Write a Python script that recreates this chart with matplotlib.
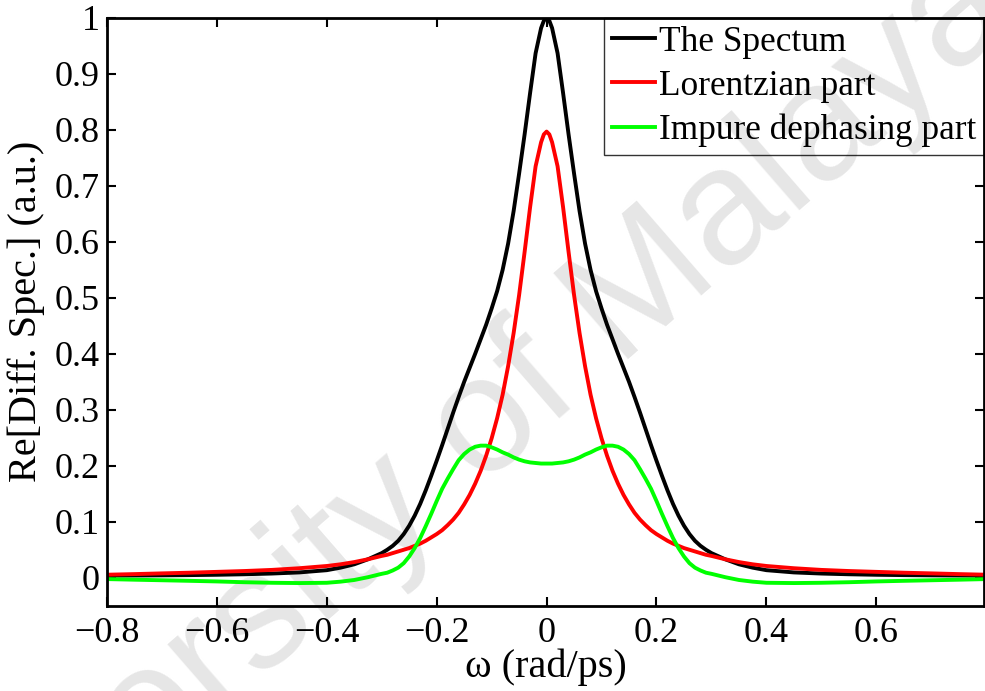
import matplotlib
matplotlib.use('Agg')
import matplotlib.pyplot as plt

plt.rcParams['font.family'] = 'Liberation Serif'

# values (curves are symmetric about 0)
omega = [-0.8, -0.75, -0.7, -0.65, -0.6, -0.55, -0.5, -0.45, -0.4, -0.375, -0.35, -0.325,
         -0.3, -0.29, -0.28, -0.27, -0.26, -0.25, -0.24, -0.23, -0.22, -0.21,
         -0.2, -0.19, -0.18, -0.17, -0.16, -0.15, -0.14, -0.13, -0.12, -0.11,
         -0.1, -0.09, -0.08, -0.07, -0.06, -0.05, -0.04, -0.03, -0.02, -0.01, -0.005,
         0.0,
         0.005, 0.01, 0.02, 0.03, 0.04, 0.05, 0.06, 0.07, 0.08, 0.09, 0.1,
         0.11, 0.12, 0.13, 0.14, 0.15, 0.16, 0.17, 0.18, 0.19, 0.2,
         0.21, 0.22, 0.23, 0.24, 0.25, 0.26, 0.27, 0.28, 0.29, 0.3,
         0.325, 0.35, 0.375, 0.4, 0.45, 0.5, 0.55, 0.6, 0.65, 0.7, 0.75, 0.8]

spectrum = [0.0036, 0.004, 0.0043, 0.0047, 0.0053, 0.0062, 0.0075, 0.0095, 0.0135, 0.018, 0.024, 0.033,
            0.044, 0.050, 0.057, 0.066, 0.078, 0.093, 0.111, 0.132, 0.156, 0.182,
            0.209, 0.237, 0.266, 0.295, 0.323, 0.350, 0.375, 0.400, 0.426, 0.452,
            0.481, 0.512, 0.550, 0.597, 0.655, 0.722, 0.792, 0.866, 0.937, 0.982, 0.995,
            1.000,
            0.995, 0.982, 0.937, 0.866, 0.792, 0.722, 0.655, 0.597, 0.550, 0.512, 0.481,
            0.452, 0.426, 0.400, 0.375, 0.350, 0.323, 0.295, 0.266, 0.237, 0.209,
            0.182, 0.156, 0.132, 0.111, 0.093, 0.078, 0.066, 0.057, 0.050, 0.044,
            0.033, 0.024, 0.018, 0.0135, 0.0095, 0.0075, 0.0062, 0.0053, 0.0047, 0.0043, 0.004, 0.0036]

lorentzian = [0.0054, 0.0065, 0.0078, 0.009, 0.0105, 0.012, 0.014, 0.017, 0.021, 0.024, 0.028, 0.033,
              0.039, 0.041, 0.044, 0.047, 0.050, 0.053, 0.057, 0.061, 0.066, 0.072,
              0.078, 0.085, 0.094, 0.104, 0.116, 0.131, 0.148, 0.168, 0.191, 0.218,
              0.249, 0.285, 0.327, 0.378, 0.437, 0.505, 0.582, 0.662, 0.735, 0.778, 0.792,
              0.797,
              0.792, 0.778, 0.735, 0.662, 0.582, 0.505, 0.437, 0.378, 0.327, 0.285, 0.249,
              0.218, 0.191, 0.168, 0.148, 0.131, 0.116, 0.104, 0.094, 0.085, 0.078,
              0.072, 0.066, 0.061, 0.057, 0.053, 0.050, 0.047, 0.044, 0.041, 0.039,
              0.033, 0.028, 0.024, 0.021, 0.017, 0.014, 0.012, 0.0105, 0.009, 0.0078, 0.0065, 0.0054]

impure = [-0.0024, -0.0035, -0.0045, -0.0055, -0.0066, -0.008, -0.009, -0.0095, -0.009, -0.007, -0.004, 0.001,
          0.007, 0.009, 0.013, 0.018, 0.026, 0.038, 0.053, 0.071, 0.092, 0.114,
          0.137, 0.159, 0.177, 0.194, 0.210, 0.221, 0.229, 0.234, 0.236, 0.236,
          0.233, 0.229, 0.224, 0.220, 0.215, 0.211, 0.208, 0.206, 0.205, 0.204, 0.204,
          0.204,
          0.204, 0.204, 0.205, 0.206, 0.208, 0.211, 0.215, 0.220, 0.224, 0.229, 0.233,
          0.236, 0.236, 0.234, 0.229, 0.221, 0.210, 0.194, 0.177, 0.159, 0.137,
          0.114, 0.092, 0.071, 0.053, 0.038, 0.026, 0.018, 0.013, 0.009, 0.007,
          0.001, -0.004, -0.007, -0.009, -0.0095, -0.009, -0.008, -0.0066, -0.0055, -0.0045, -0.0035, -0.0024]

xticks = [-0.8, -0.6, -0.4, -0.2, 0, 0.2, 0.4, 0.6]
xticklabels = ['\u22120.8', '\u22120.6', '\u22120.4', '\u22120.2', '0', '0.2', '0.4', '0.6']
yticks = [0, 0.1, 0.2, 0.3, 0.4, 0.5, 0.6, 0.7, 0.8, 0.9, 1]
yticklabels = ['0', '0.1', '0.2', '0.3', '0.4', '0.5', '0.6', '0.7', '0.8', '0.9', '1']

fig = plt.figure(figsize=(9.85, 6.91), dpi=100)
ax = fig.add_axes([0.1086, 0.1234, 0.8904, 0.8506])
ax.set_facecolor('none')

# thesis watermark behind everything
fig.text(0.4376, 0.314, 'University of Malaya', rotation=41, color='#e6e6e6',
         fontsize=119, family='Liberation Sans', ha='center', va='center',
         rotation_mode='anchor', zorder=-1)

ax.plot(omega, spectrum, color='k', lw=2.8, label='The Spectum')
ax.plot(omega, lorentzian, color='#ff0000', lw=2.8, label='Lorentzian part')
ax.plot(omega, impure, color='#00ff00', lw=2.8, label='Impure dephasing part')

ax.set_xlim(-0.8, 0.796)
ax.set_ylim(-0.05, 1)
ax.set_xticks(xticks)
ax.set_xticklabels(xticklabels)
ax.set_yticks(yticks)
ax.set_yticklabels(yticklabels)
ax.tick_params(direction='in', length=6.5, width=1.5, top=True, right=True,
               labelsize=26, pad=5)
ax.tick_params(axis='x', pad=8)
for s in ax.spines.values():
    s.set_linewidth(2)

# ticks hidden behind the legend box in the original
for t in ax.xaxis.get_major_ticks()[5:]:
    t.tick2line.set_visible(False)
for t in ax.yaxis.get_major_ticks()[8:]:
    t.tick2line.set_visible(False)

ax.set_xlabel('\u03c9 (rad/ps)', fontsize=29, labelpad=-1)
ax.set_ylabel('Re[Diff. Spec.] (a.u.)', fontsize=29, labelpad=7)

leg = ax.legend(loc='upper right', borderaxespad=0, fancybox=False, edgecolor='k',
                facecolor='none', fontsize=25.4, handlelength=1.22, handletextpad=0.12,
                labelspacing=0.31, borderpad=0.22)
leg.get_frame().set_linewidth(1.0)

fig.savefig('out.png', dpi=100)
